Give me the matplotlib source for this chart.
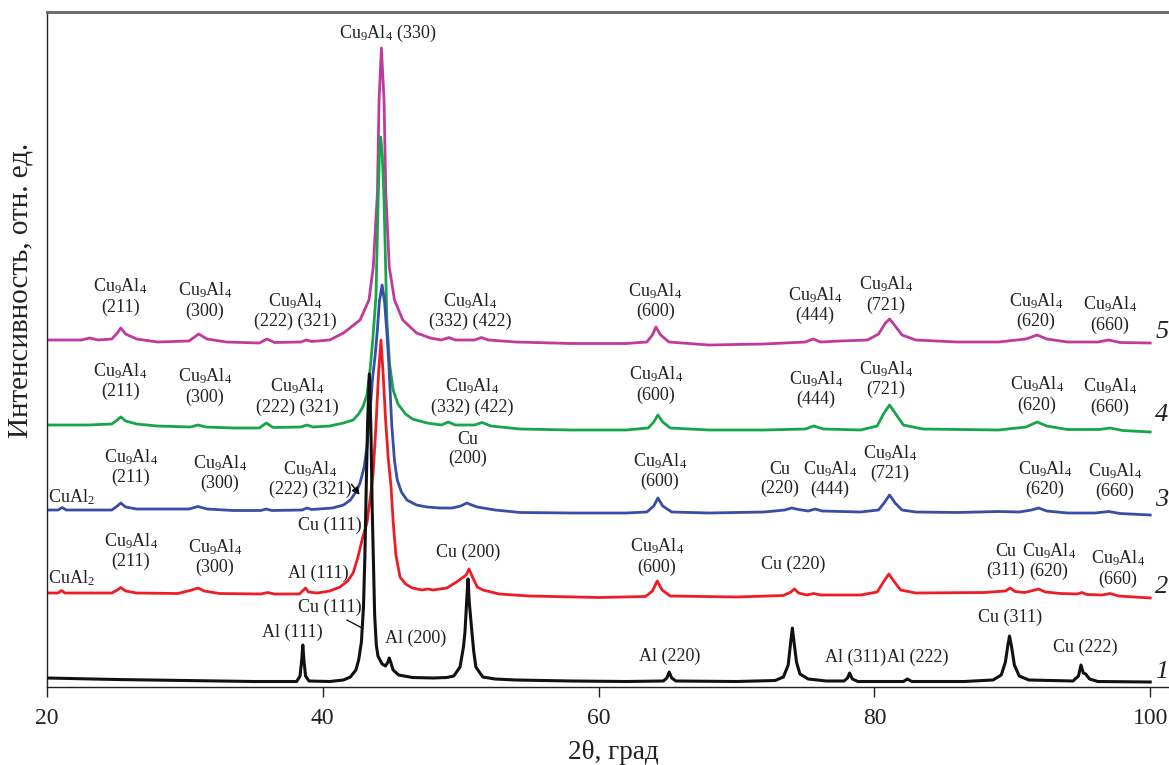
import matplotlib
matplotlib.use('Agg')
import matplotlib.pyplot as plt

plt.rcParams['font.family'] = ['Liberation Serif', 'DejaVu Serif']
plt.rcParams['mathtext.fontset'] = 'custom'
plt.rcParams['mathtext.rm'] = 'Liberation Serif'
plt.rcParams['mathtext.it'] = 'Liberation Serif:italic'

# ---------------- data (2theta, intensity in arbitrary units incl. offset) -------------
curve1 = [(20, 9), (25, 7.5), (30, 6.5), (35, 5.5), (38.1, 5.5), (38.35, 11), (38.47, 27), (38.55, 42),
          (38.63, 27), (38.75, 11), (39.0, 6), (40.5, 5.5), (41.5, 7), (42.0, 10), (42.4, 17), (42.6, 27),
          (42.8, 45), (42.95, 80), (43.05, 130), (43.15, 200), (43.25, 265), (43.38, 313), (43.5, 250),
          (43.58, 180), (43.68, 120), (43.76, 72), (43.88, 42), (44.0, 31), (44.3, 23), (44.55, 21),
          (44.72, 25), (44.82, 29), (44.92, 25), (45.1, 17), (45.5, 12), (46.5, 9.5), (48.0, 9),
          (49.0, 9.5), (49.5, 11), (49.95, 20), (50.2, 40), (50.31, 55), (50.45, 90), (50.53, 108),
          (50.62, 85), (50.82, 54), (50.95, 35), (51.1, 20), (51.6, 10), (52.5, 8), (54.0, 7),
          (58.0, 6), (62.0, 5.5), (64.7, 6), (64.95, 9), (65.12, 15), (65.3, 9), (65.6, 6), (70.0, 5.5),
          (72.8, 6.5), (73.4, 10), (73.75, 22), (73.93, 45), (74.05, 59), (74.17, 45), (74.35, 25),
          (74.6, 13), (75.2, 8), (76.5, 6), (77.8, 6), (78.05, 9), (78.2, 14), (78.4, 8), (78.8, 5.5),
          (82.1, 5.5), (82.4, 8), (82.7, 5.5), (86.5, 5.5), (88.6, 7), (89.2, 12), (89.5, 25),
          (89.68, 42), (89.8, 51), (89.95, 40), (90.15, 22), (90.5, 11), (91.2, 7), (94.4, 6),
          (94.8, 11), (94.98, 22), (95.15, 14), (95.32, 13), (95.6, 8), (96.2, 5.5), (100, 5)]

curve2 = [(20, 94), (20.8, 94), (21.05, 96.5), (21.3, 94), (23.0, 94), (24.7, 94), (25.1, 97),
          (25.35, 99.5), (25.7, 96), (26.5, 94), (29.5, 93.5), (30.5, 97), (30.95, 99), (31.4, 96),
          (32.5, 93.5), (35.5, 93), (36.0, 94.5), (36.5, 93), (38.3, 93), (38.6, 97), (38.75, 99),
          (38.95, 95), (39.6, 94), (40.5, 96), (41.25, 100), (41.8, 106), (42.2, 114), (42.55, 130),
          (42.9, 150), (43.2, 164), (43.45, 190), (43.65, 214), (43.85, 260), (44.05, 315), (44.22, 347),
          (44.38, 312), (44.55, 268), (44.75, 228), (44.95, 200), (45.1, 166), (45.3, 132), (45.6, 110),
          (46.0, 103), (46.5, 99), (47.2, 97), (47.6, 98), (48.0, 97), (49.0, 99), (49.7, 105),
          (50.1, 109), (50.4, 112), (50.6, 118), (50.85, 110), (51.2, 100), (51.6, 97), (52.8, 93),
          (55.0, 91), (60.0, 89.5), (63.4, 90.5), (63.9, 96), (64.25, 106), (64.6, 97), (65.2, 91),
          (70.0, 90), (73.4, 91.5), (73.95, 95), (74.2, 98), (74.5, 94), (75.1, 92), (75.6, 93.5),
          (76.1, 92), (79.0, 92), (80.2, 95), (80.7, 106), (81.05, 113), (81.4, 106), (81.9, 97),
          (83.0, 94), (88.0, 94.5), (89.5, 96), (89.85, 99), (90.2, 95.5), (90.9, 94.5), (91.5, 96.5),
          (91.9, 98), (92.4, 95), (93.5, 93.5), (94.7, 93), (95.05, 94.5), (95.4, 92.5), (96.5, 92),
          (97.1, 93.5), (97.7, 91), (100, 89)]

curve3 = [(20, 177), (20.8, 177), (21.1, 179.5), (21.4, 177), (24.7, 177), (25.1, 181), (25.35, 184),
          (25.7, 180), (26.5, 178), (28, 178), (30.3, 178), (30.95, 180.5), (31.6, 178), (33.5, 176.5),
          (35.5, 176.5), (35.9, 178), (36.3, 176.5), (38.5, 177), (38.85, 179), (39.2, 177.5),
          (40.7, 179), (41.5, 182), (42.0, 187), (42.4, 195), (42.7, 204), (43.0, 220), (43.2, 240),
          (43.42, 275), (43.62, 310), (43.8, 332), (43.95, 356), (44.1, 385), (44.3, 402), (44.48, 385),
          (44.65, 354), (44.8, 320), (45.0, 262), (45.2, 226), (45.4, 207), (45.7, 195), (46.1, 187),
          (46.8, 182), (47.55, 180), (48.5, 179), (49.4, 179), (50.0, 181), (50.45, 184), (50.8, 182),
          (51.2, 180), (52.5, 177), (54.3, 174.5), (58, 174), (62, 174), (63.5, 175), (64.0, 181),
          (64.3, 189), (64.65, 181), (65.3, 175), (68, 174), (72, 175), (73.5, 177), (74.0, 179),
          (74.5, 177.5), (75.2, 176), (75.7, 178), (76.2, 176), (79, 175), (80.3, 177), (80.7, 184),
          (81.1, 192), (81.5, 184), (82.0, 177), (83, 175), (86, 174.5), (89, 175.5), (90.5, 175),
          (91.4, 177), (91.9, 179), (92.5, 176), (94, 174), (96, 174), (97.0, 175.5), (97.8, 173.5),
          (100, 172)]

curve4 = [(20, 262), (23, 262), (24.7, 263), (25.1, 267), (25.35, 270), (25.7, 266), (26.5, 263),
          (28, 261), (30.4, 260), (30.95, 262), (31.5, 260), (33.5, 259), (35.4, 259), (35.9, 264),
          (36.4, 259.5), (38.4, 260), (38.85, 262), (39.3, 260), (40.5, 261), (41.5, 264), (42.2, 267),
          (42.6, 273), (42.9, 280), (43.2, 292), (43.45, 320), (43.64, 350), (43.86, 392), (44.0, 480),
          (44.1, 530), (44.2, 550), (44.32, 530), (44.44, 487), (44.65, 365), (44.85, 322), (45.1, 297),
          (45.45, 283), (46.0, 273), (46.5, 268), (47.55, 264), (48.6, 262), (49.1, 265), (49.6, 262),
          (51.0, 262), (51.55, 264.5), (52.2, 261), (54.3, 258), (58, 257), (62, 257), (63.6, 259),
          (64.0, 265), (64.3, 272), (64.65, 265), (65.2, 259), (68, 257), (72, 257), (75.0, 258),
          (75.6, 261), (76.3, 258), (79, 257), (80.2, 261), (80.7, 274), (81.1, 282), (81.5, 274),
          (82.1, 262), (83.5, 258), (89, 257), (91.0, 260), (91.8, 265), (92.5, 261), (94, 257.5),
          (96.3, 257.5), (97.1, 259), (98, 256.5), (100, 255)]

curve5 = [(20, 347), (22.5, 347), (23.1, 349), (23.7, 347), (24.7, 348), (25.1, 354), (25.35, 359),
          (25.7, 353), (26.5, 348), (28, 345), (30.3, 346), (31.0, 353), (31.6, 348), (33, 345),
          (35.4, 344), (35.95, 348), (36.5, 344.5), (38.4, 345), (38.8, 347), (39.2, 345.5), (40.5, 347),
          (41.5, 354), (42.7, 367), (43.35, 387), (43.66, 420), (43.96, 494), (44.08, 587), (44.25, 639),
          (44.44, 587), (44.57, 494), (44.82, 420), (45.2, 387), (45.8, 367), (46.8, 354), (47.8, 349),
          (48.6, 347), (49.15, 349.5), (49.6, 347), (51.0, 347), (51.5, 349.5), (52.0, 347), (54, 345),
          (58, 343.5), (62, 343.5), (63.5, 345), (63.9, 352), (64.16, 360), (64.5, 352), (65.1, 345),
          (68, 342), (72, 343), (75.0, 345), (75.55, 348), (76.1, 345), (77.5, 346), (79.5, 347),
          (80.3, 353), (80.8, 364), (81.1, 368), (81.45, 362), (82.0, 352), (83, 347), (86, 345),
          (89, 345), (91.0, 348), (91.8, 352), (92.5, 348), (94, 345), (96.2, 345), (97.0, 347),
          (97.8, 344.5), (100, 344)]

curve_names = ['1', '2', '3', '4', '5']
curve_colors = ['#111111', '#EE1C25', '#3A4DA6', '#16A54A', '#C1399C']
x_ticks = [20, 40, 60, 80, 100]

C = r'Cu$_9$Al$_4$'
# (text, x, y) annotations
labels = [
    # curve 5
    (C + '\n(211)', 25.3, 391), (C + '\n(300)', 31.46, 387), (C + '\n(222) (321)', 38.0, 376),
    (C + ' (330)', 44.73, 654), (C + '\n(332) (422)', 50.67, 376), (C + '\n(600)', 64.1, 386),
    (C + '\n(444)', 75.7, 382), (C + '\n(721)', 80.84, 393), (C + '\n(620)', 91.72, 376),
    (C + '\n(660)', 97.08, 373),
    # curve 4
    (C + '\n(211)', 25.3, 306), (C + '\n(300)', 31.46, 301), (C + '\n(222) (321)', 38.13, 291),
    (C + '\n(332) (422)', 50.82, 291), (C + '\n(600)', 64.16, 303), (C + '\n(444)', 75.77, 298),
    (C + '\n(721)', 80.84, 308), (C + '\n(620)', 91.79, 293), (C + '\n(660)', 97.08, 291),
    # curve 3
    (r'CuAl$_2$', 21.8, 190), (C + '\n(211)', 26.09, 220), (C + '\n(300)', 32.55, 214),
    (C + '\n(222) (321)', 39.07, 208), ('Cu\n(200)', 50.53, 238), (C + '\n(600)', 64.45, 216),
    ('Cu\n(220)', 73.15, 208), (C + '\n(444)', 76.78, 208), (C + '\n(721)', 81.13, 224),
    (C + '\n(620)', 92.37, 208), (C + '\n(660)', 97.45, 206), ('Cu (111)', 40.52, 162),
    # curve 2
    (r'CuAl$_2$', 21.8, 109), (C + '\n(211)', 26.09, 136), (C + '\n(300)', 32.18, 130),
    ('Al (111)', 39.65, 114), ('Cu (200)', 50.53, 135), (C + '\n(600)', 64.23, 131),
    ('Cu (220)', 74.1, 123), ('Cu\n(311)', 89.54, 126), (C + '\n(620)', 92.66, 126),
    (C + '\n(660)', 97.66, 119),
    # curve 1
    ('Cu (111)', 40.52, 80), ('Al (111)', 37.77, 55), ('Al (200)', 46.76, 49), ('Al (220)', 65.18, 31),
    ('Al (311)', 78.6, 30), ('Al (222)', 83.16, 30), ('Cu (311)', 89.83, 70), ('Cu (222)', 95.27, 40),
]
number_y = [15, 100, 187, 272, 355]

# ---------------- figure ----------------
fig = plt.figure(figsize=(11.69, 7.65), dpi=100)
ax = fig.add_axes([47 / 1169, 78 / 765, 1 - 47 / 1169, 675 / 765])

curves = [curve1, curve2, curve3, curve4, curve5]
for i in [4, 3, 2, 1, 0]:
    xs, ys = zip(*curves[i])
    ax.plot(xs, ys, color=curve_colors[i], lw=2.0 if i else 2.2, solid_joinstyle='round',
            zorder=3 if i == 0 else 2)

for txt, x, y in labels:
    ax.text(x, y, txt, ha='center', va='center', fontsize=13, linespacing=1.15, color='#222222', zorder=5)

for name, y in zip(curve_names, number_y):
    ax.text(100.85, y, name, ha='center', va='center', fontsize=19, style='italic', color='#222222',
            clip_on=False)

# arrow for curve 3 shoulder and leader line for curve 1 Cu(111)
ax.annotate('', xy=(42.8, 190), xytext=(41.95, 205),
            arrowprops=dict(arrowstyle='-|>', color='black', lw=1.0, mutation_scale=11))
ax.plot([41.75, 42.84], [67, 59], color='black', lw=0.9)

ax.set_xlim(20, 20 + 1122 / 13.79)
ax.set_ylim(0, 675)
ax.set_xticks(x_ticks)
ax.set_yticks([])
ax.tick_params(axis='x', direction='out', length=7, width=1, labelsize=17, pad=8, colors='#222222')
for s in ['left', 'bottom']:
    ax.spines[s].set_color('#222222')
    ax.spines[s].set_linewidth(1.0)
ax.spines['right'].set_visible(False)
ax.spines['top'].set_color('#6e6e6e')
ax.spines['top'].set_linewidth(2.2)

ax.set_xlabel('2θ, град', fontsize=19.5, color='#222222')
ax.xaxis.set_label_coords((613 - 47) / 1122, -0.078)
ax.set_ylabel('Интенсивность, отн. ед.', fontsize=21, color='#222222')
ax.yaxis.set_label_coords(-0.012, 0.588)

fig.savefig('out.png', dpi=100)
